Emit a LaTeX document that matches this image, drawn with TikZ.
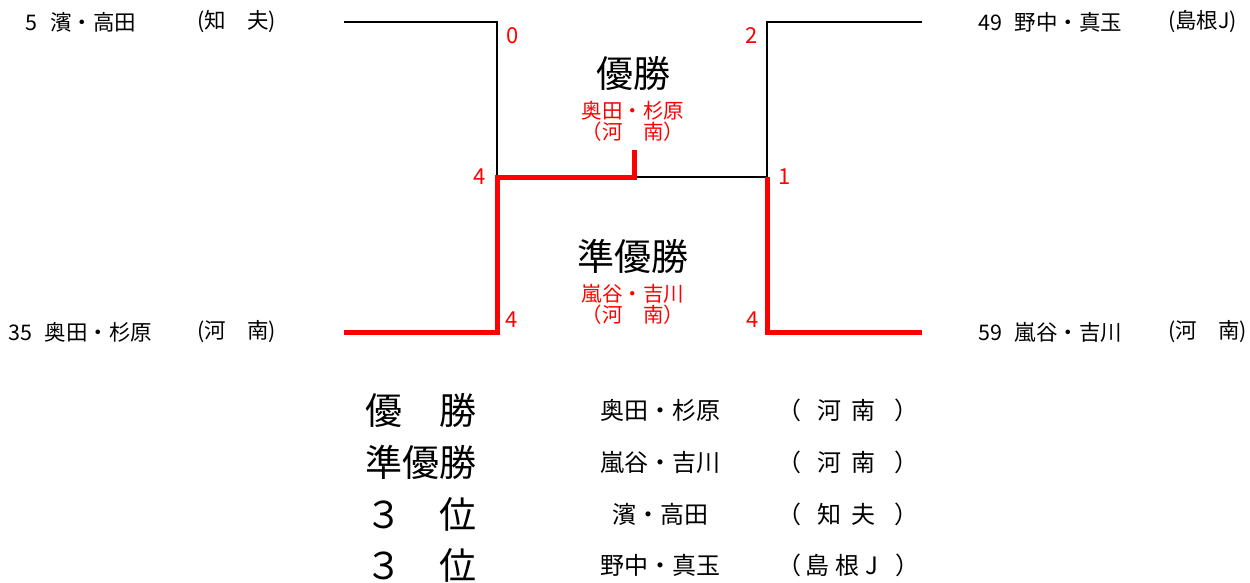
\documentclass[tikz,border=0pt]{standalone}
\usepackage{fontspec}
\setmainfont{Noto Sans CJK JP}
\newcommand{\gp}[1]{\hspace{#1em}}
\begin{document}
\begin{tikzpicture}[x=1pt,y=-1pt,
    line/.style={black,line width=2pt},
    winline/.style={red,line width=5pt},
    player/.style={font=\fontsize{21.5}{22}\selectfont,anchor=west,inner sep=0pt},
    score/.style={red,font=\fontsize{22}{22}\selectfont,inner sep=0pt},
    title/.style={font=\fontsize{37}{37}\selectfont,inner sep=0pt},
    pair/.style={red,font=\fontsize{20.5}{21}\selectfont,inner sep=0pt,align=center},
    rank/.style={font=\fontsize{37}{37}\selectfont,inner sep=0pt},
    entry/.style={font=\fontsize{24}{24}\selectfont,inner sep=0pt}]
  \useasboundingbox (0,0) rectangle (1250,583);
  % bracket corners
  \coordinate (a1) at (344,22);  \coordinate (a2) at (497,22);
  \coordinate (b1) at (344,332); \coordinate (b2) at (497,332);
  \coordinate (c1) at (922,22);  \coordinate (c2) at (767,22);
  \coordinate (d1) at (922,332); \coordinate (d2) at (767,332);
  \coordinate (sl) at (497,177); \coordinate (sr) at (767,177);
  \coordinate (fm) at (634,177); \coordinate (ft) at (634,150);
  % players
  \node[player] (p1) at (25,22) {5\gp{.6}濱・高田};
  \node[player] (t1) at (197,22) {(知　夫)};
  \node[player] (p2) at (8,332) {35\gp{.6}奥田・杉原};
  \node[player] (t2) at (197,332) {(河　南)};
  \node[player] (p3) at (978,22) {49\gp{.6}野中・真玉};
  \node[player] (t3) at (1168,22) {(島根J)};
  \node[player] (p4) at (978,332) {59\gp{.6}嵐谷・吉川};
  \node[player] (t4) at (1168,332) {(河　南)};
  % lines
  \draw[line] (a1) -- (a2) -- (sl);
  \draw[line] (c1) -- (c2) -- (sr);
  \draw[line] (fm) -- (sr);
  \draw[winline] (b1) -- (b2) -- (sl) -- (fm) -- (ft);
  \draw[winline] (sr) -- (d2) -- (d1);
  % scores
  \node[score] (s1) at (513,36) {0};
  \node[score] (s2) at (752,36) {2};
  \node[score] (s3) at (480,177) {4};
  \node[score] (s4) at (785,177) {1};
  \node[score] (s5) at (512,320) {4};
  \node[score] (s6) at (753,320) {4};
  % winners
  \node[title] (win) at (633,73) {優勝};
  \node[pair] (winp) at (633,121) {奥田・杉原\\（河　南）};
  \node[title] (sec) at (633,256) {準優勝};
  \node[pair] (secp) at (633,304) {嵐谷・吉川\\（河　南）};
  % result table
  \foreach \i/\y/\r/\n/\t in {1/410/優　勝/奥田・杉原/（\gp{.7}河\gp{.4}南\gp{.8}）,
      2/462/準優勝/嵐谷・吉川/（\gp{.7}河\gp{.4}南\gp{.8}）,
      3/514/３　位/濱・高田/（\gp{.7}知\gp{.4}夫\gp{.8}）,
      4/565/３　位/野中・真玉/（\gp{.2}島\gp{.25}根\gp{.25}J\gp{.7}）}{
    \node[rank] (rank\i) at (421,\y) {\r};
    \node[entry] (name\i) at (660,\y) {\n};
    \node[entry,anchor=west] (team\i) at (777,\y) {\t};}
\end{tikzpicture}
\end{document}
